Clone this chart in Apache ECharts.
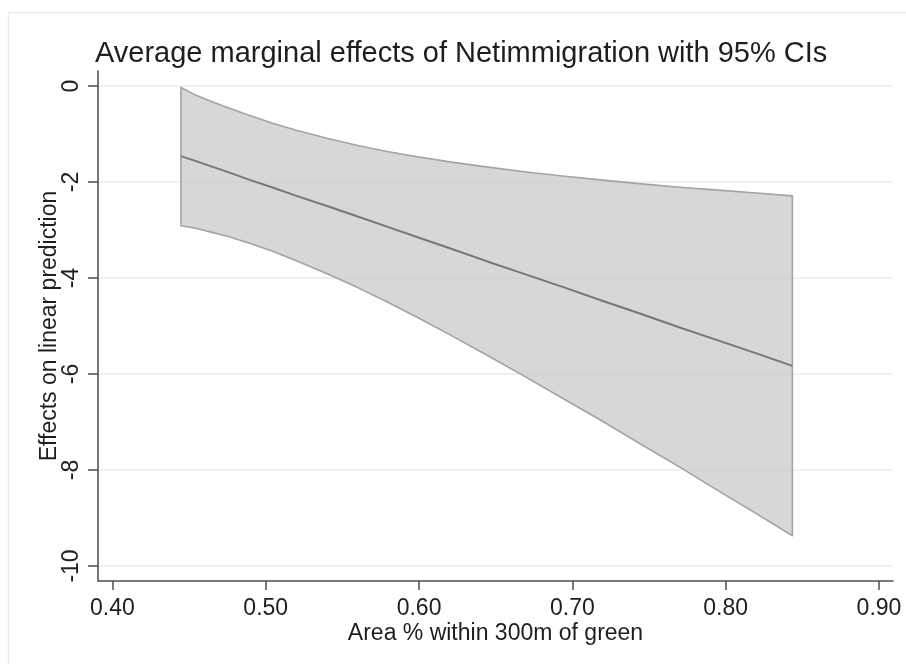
<!DOCTYPE html>
<html>
<head>
<meta charset="utf-8">
<script src="https://cdn.jsdelivr.net/npm/echarts@6/dist/echarts.min.js"></script>
<style>
html,body{margin:0;padding:0;background:#fff;}
#c{width:906px;height:664px;}
</style>
</head>
<body>
<div id="c"></div>
<script>
// Data
const xValues = [0.4447, 0.455, 0.465, 0.475, 0.49, 0.505, 0.52, 0.54, 0.56, 0.58, 0.60, 0.62, 0.645, 0.67, 0.695, 0.72, 0.745, 0.77, 0.795, 0.82, 0.8435];
const meanEffect = [-1.46, -1.57, -1.68, -1.79, -1.96, -2.12, -2.29, -2.50, -2.72, -2.94, -3.16, -3.38, -3.66, -3.93, -4.20, -4.48, -4.75, -5.03, -5.30, -5.57, -5.83];
const upperCI = [-0.03, -0.20, -0.33, -0.45, -0.62, -0.78, -0.92, -1.09, -1.24, -1.37, -1.48, -1.58, -1.69, -1.79, -1.88, -1.96, -2.04, -2.11, -2.17, -2.23, -2.29];
const lowerCI = [-2.91, -2.97, -3.05, -3.13, -3.28, -3.45, -3.64, -3.91, -4.20, -4.51, -4.84, -5.18, -5.62, -6.07, -6.53, -6.99, -7.47, -7.94, -8.43, -8.91, -9.37];
const xTicks = [0.4, 0.5, 0.6, 0.7, 0.8, 0.9];
const yTicks = [0, -2, -4, -6, -8, -10];
const titleText = 'Average marginal effects of Netimmigration with 95% CIs';
const xName = 'Area % within 300m of green';
const yName = 'Effects on linear prediction';

const FONT = 'Liberation Sans, Arial, sans-serif';
const TXT = '#1e1e1e';
const AXIS = '#4d4d4d';

const chart = echarts.init(document.getElementById('c'), null, {renderer: 'canvas'});
const meanData = xValues.map((x, i) => [x, meanEffect[i]]);

chart.setOption({
  animation: false,
  backgroundColor: '#fff',
  graphic: [{
    type: 'rect',
    shape: {x: 8.5, y: 12.5, width: 1200, height: 1200},
    style: {fill: 'none', stroke: '#ececec', lineWidth: 1.5},
    z: -10
  }],
  title: {
    text: titleText,
    left: 90,
    top: 34,
    textStyle: {fontFamily: FONT, fontSize: 29, fontWeight: 'normal', color: TXT}
  },
  grid: {left: 98, right: 13, top: 71, bottom: 83, containLabel: false},
  xAxis: {
    type: 'value',
    min: 0.39061,
    max: 0.90913,
    name: xName,
    nameLocation: 'middle',
    nameGap: 41,
    nameMoveOverlap: false,
    nameTextStyle: {fontFamily: FONT, fontSize: 23, color: TXT},
    axisLine: {show: true, onZero: false, lineStyle: {color: AXIS, width: 1.5}},
    axisTick: {show: true, customValues: xTicks, length: 9, lineStyle: {color: AXIS, width: 1.5}},
    axisLabel: {customValues: xTicks, margin: 16, fontFamily: FONT, fontSize: 23, color: TXT,
      formatter: v => v.toFixed(2)},
    splitLine: {show: false}
  },
  yAxis: {
    type: 'value',
    min: -10.3125,
    max: 0.3125,
    name: yName,
    nameLocation: 'middle',
    nameGap: 37,
    nameMoveOverlap: false,
    nameTextStyle: {fontFamily: FONT, fontSize: 23, color: TXT},
    axisLine: {show: true, onZero: false, lineStyle: {color: AXIS, width: 1.5}},
    axisTick: {show: true, customValues: yTicks, length: 10, lineStyle: {color: AXIS, width: 1.5}},
    axisLabel: {customValues: yTicks, rotate: 90, margin: 15, fontFamily: FONT, fontSize: 23, color: TXT,
      formatter: v => String(Math.round(v))},
    splitLine: {show: true, lineStyle: {color: '#ebebeb', width: 1.5}}
  },
  series: [
    {
      type: 'custom',
      name: 'CI',
      data: [[xValues[0], upperCI[0]]],
      z: 2,
      renderItem: function (params, api) {
        const pts = [];
        for (let i = 0; i < xValues.length; i++) pts.push(api.coord([xValues[i], upperCI[i]]));
        for (let i = xValues.length - 1; i >= 0; i--) pts.push(api.coord([xValues[i], lowerCI[i]]));
        return {
          type: 'polygon',
          shape: {points: pts},
          style: {fill: 'rgba(200,200,200,0.72)', stroke: '#a3a3a3', lineWidth: 1.6, lineJoin: 'round'}
        };
      }
    },
    {
      type: 'line',
      name: 'Effect',
      data: meanData,
      symbol: 'none',
      z: 3,
      lineStyle: {color: '#777777', width: 2}
    }
  ]
});
</script>
</body>
</html>
